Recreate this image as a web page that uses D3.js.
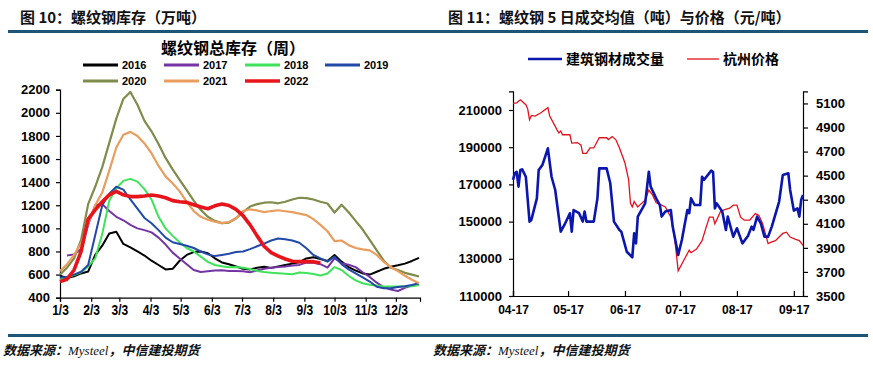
<!DOCTYPE html>
<html>
<head>
<meta charset="utf-8">
<script src="https://cdn.jsdelivr.net/npm/d3@7"></script>
<style>
  body { margin: 0; background: #fff; }
  svg { display: block; }
  .tick text { font-family: "Liberation Sans", Arial, sans-serif; font-weight: bold; fill: #000; }
</style>
</head>
<body>
<div id="chart"></div>
<script>
// ---- left chart: weekly rebar inventory, one array per year (week 0 = 1/3)
var years = ["2016", "2017", "2018", "2019", "2020", "2021", "2022"];
var monthTicks = ["1/3", "2/3", "3/3", "4/3", "5/3", "6/3", "7/3", "8/3", "9/3", "10/3", "11/3", "12/3"];

var inv2016 = [590, 570, 585, 610, 626, 770, 850, 955, 970, 865, 835, 800, 765, 720, 683, 645, 650, 720, 770, 795, 800, 785, 741, 705, 690, 670,
  650, 645, 660, 668, 658, 670, 683, 695, 707, 740, 750, 735, 718, 770, 712, 665, 635, 610, 600, 625, 650, 668, 680, 695, 718, 745];
var inv2017 = [null, 765, 775, 820, 1030, 1200, 1210, 1150, 1100, 1070, 1030, 1000, 985, 965, 920, 860, 790, 740, 690, 640, 622, 628, 635, 638, 632, 630,
  628, 620, 635, 650, 660, 665, 670, 678, 684, 705, 702, 690, 660, 741, 698, 685, 665, 620, 580, 530, 490, 470, 458, 485, 505, 520];
var inv2018 = [560, 575, 595, 620, 670, 740, 950, 1240, 1347, 1411, 1428, 1405, 1340, 1250, 1100, 1000, 935, 880, 830, 800, 755, 710, 683, 672, 663, 665,
  660, 648, 632, 622, 615, 611, 607, 603, 618, 613, 605, 592, 610, 665, 640, 590, 550, 525, 512, 505, 497, 496, 496, 496, 500, 510];
var inv2019 = [575, 580, 600, 625, 683, 940, 1200, 1300, 1360, 1335, 1250, 1170, 1090, 1044, 985, 920, 880, 865, 850, 830, 800, 775, 760, 770, 780, 795,
  800, 820, 845, 868, 895, 912, 905, 895, 875, 828, 770, 740, 712, 755, 690, 645, 610, 575, 540, 495, 482, 482, 492, 500, 510, 525];
var inv2020 = [600, 660, 740, 900, 1210, 1360, 1530, 1740, 1950, 2120, 2180, 2070, 1930, 1840, 1730, 1610, 1510, 1420, 1330, 1240, 1160, 1100, 1065, 1045, 1050, 1085,
  1140, 1189, 1210, 1222, 1226, 1217, 1230, 1250, 1265, 1262, 1250, 1230, 1215, 1137, 1205, 1140, 1065, 990, 900, 810, 720, 660, 640, 615, 600, 583];
var inv2021 = [630, 690, 770, 870, 1040, 1200, 1310, 1500, 1700, 1810, 1835, 1800, 1735, 1650, 1540, 1450, 1390, 1320, 1230, 1150, 1100, 1075, 1058, 1045, 1055, 1090,
  1150, 1165, 1155, 1140, 1150, 1157, 1148, 1140, 1128, 1115, 1080, 1030, 975, 890, 895, 855, 830, 818, 810, 770, 710, 665, 630, 590, 555, 525];
var inv2022 = [539, 560, 640, 800, 1080, 1160, 1230, 1290, 1320, 1290, 1275, 1275, 1280, 1288, 1280, 1265, 1240, 1230, 1225, 1205, 1185, 1170, 1195, 1210, 1198, 1165,
  1110, 1030, 935, 845, 790, 760, 735, 715, 712, 712, 712, 700];

var invSeries = [inv2016, inv2017, inv2018, inv2019, inv2020, inv2021, inv2022];
var invColors = ["#000000", "#7434a4", "#3fe35a", "#2249a8", "#7f8c4c", "#e99d5e", "#e8141b"];
var invWidths = [2, 2, 2, 2, 2.2, 2.2, 3.6];

// ---- right chart: 5-day traded volume (t) and Hangzhou price (yuan/t), 2022
var volume = [["04-17",172400],["04-18",176000],["04-19",176800],["04-20",168800],["04-21",177700],["04-22",178100],["04-24",174100],["04-26",150000],
  ["04-27",150900],["04-30",162500],["05-01",177700],["05-03",180400],["05-06",189400],["05-08",174100],["05-10",167000],["05-13",144600],["05-15",148200],
  ["05-18",154500],["05-19",144600],["05-20",156200],["05-23",154500],["05-25",150000],["05-26",155400],["05-27",150000],["05-31",150000],["06-02",162500],
  ["06-03",178600],["06-07",178600],["06-09",170600],["06-11",150000],["06-14",145500],["06-15",144600],["06-18",133800],["06-21",130800],["06-22",143700],
  ["06-23",138300],["06-24",152700],["06-28",159800],["06-30",176800],["07-01",168800],["07-04",162500],["07-06",158900],["07-07",152700],["07-09",155400],
  ["07-12",156200],["07-13",147300],["07-16",132100],["07-18",140100],["07-21",156200],["07-22",154500],["07-23",162500],["07-25",158900],["07-28",158900],
  ["07-29",174100],["07-30",172400],["08-03",177400],["08-04",176800],["08-05",157100],["08-06",159800],["08-09",155400],["08-11",145500],["08-12",152700],
  ["08-15",141900],["08-17",146400],["08-20",138300],["08-23",142300],["08-25",147300],["08-26",145500],["08-28",152700],["08-30",149100],["09-01",141900],
  ["09-03",141900],["09-05",147300],["09-09",160800],["09-11",175100],["09-14",176000],["09-15",167000],["09-17",155900],["09-19",157100],["09-20",152700],
  ["09-21",161600],["09-22",164300]];
var price = [["04-17",5100],["04-19",5105],["04-21",5130],["04-24",5090],["04-25",5055],["04-26",4965],["04-27",5000],["04-29",4995],["05-02",5020],
  ["05-06",5065],["05-07",4995],["05-11",4880],["05-12",4855],["05-13",4870],["05-14",4840],["05-18",4840],["05-19",4770],["05-22",4775],["05-24",4755],
  ["05-25",4685],["05-27",4685],["05-29",4730],["05-31",4730],["06-03",4815],["06-07",4815],["06-08",4800],["06-10",4825],["06-12",4800],["06-14",4730],
  ["06-17",4605],["06-19",4465],["06-20",4270],["06-21",4240],["06-22",4285],["06-24",4240],["06-25",4255],["06-28",4295],["06-30",4380],["07-02",4340],
  ["07-04",4275],["07-07",4255],["07-09",4240],["07-12",4155],["07-14",3990],["07-16",3710],["07-19",3795],["07-22",3880],["07-23",3860],["07-26",3890],
  ["07-29",3960],["07-31",4060],["08-02",4155],["08-04",4155],["08-05",4100],["08-08",4200],["08-10",4215],["08-13",4230],["08-15",4255],["08-17",4255],
  ["08-19",4155],["08-21",4130],["08-24",4130],["08-27",4185],["08-29",4170],["08-31",4100],["09-02",3990],["09-03",3935],["09-05",3950],["09-07",3960],
  ["09-09",3990],["09-11",4020],["09-13",4030],["09-15",3990],["09-18",3970],["09-20",3960],["09-22",3920]];
var dateTicks = ["04-17", "05-17", "06-17", "07-17", "08-17", "09-17"];
var volTicks = [110000, 130000, 150000, 170000, 190000, 210000];
var priceTicks = [3500, 3700, 3900, 4100, 4300, 4500, 4700, 4900, 5100];

var cnFont = '"Noto Sans CJK SC", sans-serif';
var ruleColor = "#1d5577";

var svg = d3.select("#chart").append("svg")
    .attr("width", 873)
    .attr("height", 366);

svg.append("rect").attr("width", 873).attr("height", 366).attr("fill", "#fff");

// header titles and rules
svg.append("text").attr("x", 20).attr("y", 23)
    .style("font-family", cnFont).style("font-weight", "bold").style("font-size", "15px").attr("fill", "#111")
    .text("图 10：螺纹钢库存（万吨）");
svg.append("text").attr("x", 448).attr("y", 23)
    .style("font-family", cnFont).style("font-weight", "bold").style("font-size", "15px").attr("fill", "#111")
    .text("图 11：螺纹钢 5 日成交均值（吨）与价格（元/吨）");
svg.append("rect").attr("x", 8).attr("y", 30).attr("width", 860).attr("height", 3).attr("fill", ruleColor);
svg.append("rect").attr("x", 8).attr("y", 334).attr("width", 860).attr("height", 3).attr("fill", ruleColor);

// source lines
[3, 433].forEach(function(x0) {
  var t = svg.append("text").attr("x", x0).attr("y", 355)
      .style("font-size", "13px").style("font-style", "italic").style("font-weight", "bold").attr("fill", "#111");
  t.append("tspan").style("font-family", cnFont).text("数据来源：");
  t.append("tspan").style("font-family", '"Liberation Serif", serif').style("font-weight", "normal").text("Mysteel");
  t.append("tspan").style("font-family", cnFont).text("，中信建投期货");
});

// ================= left chart =================
var parseDay = d3.timeParse("%Y-%m-%d");
var week0 = parseDay("2022-01-03");
var weekDate = function(i) { return d3.timeDay.offset(week0, 7 * i); };

var xL = d3.scaleTime().domain([week0, parseDay("2022-12-27")]).range([60, 420]);
var yL = d3.scaleLinear().domain([400, 2200]).range([297.7, 89.7]);

var gL = svg.append("g");

gL.append("g")
    .attr("transform", "translate(0,297.7)")
    .call(d3.axisBottom(xL)
      .tickValues(monthTicks.map(function(m) { return parseDay("2022-" + m.split("/")[0] + "-3"); }))
      .tickFormat(function(d, i) { return monthTicks[i]; })
      .tickSizeOuter(0).tickSize(4).tickPadding(3))
    .call(function(g) {
      // condensed look of the original labels
      g.selectAll("text").style("font-size", "15px").attr("transform", "scale(0.8,1)");
      g.selectAll("line, path").attr("stroke", "#000").attr("stroke-width", 1.2);
    });

gL.append("g")
    .attr("transform", "translate(60,0)")
    .call(d3.axisLeft(yL).tickValues(d3.range(400, 2201, 200)).tickFormat(d3.format("d"))
      .tickSizeOuter(0).tickSize(4).tickPadding(6))
    .call(function(g) {
      g.selectAll("text").style("font-size", "13px");
      g.selectAll("line, path").attr("stroke", "#000").attr("stroke-width", 1.2);
    });

var invLine = d3.line()
    .defined(function(d) { return d != null; })
    .x(function(d, i) { return xL(weekDate(i)); })
    .y(function(d) { return yL(d); });

invSeries.forEach(function(s, k) {
  gL.append("path")
      .datum(s)
      .attr("fill", "none")
      .attr("stroke", invColors[k])
      .attr("stroke-width", invWidths[k])
      .attr("stroke-linejoin", "round")
      .attr("d", invLine);
});

// chart title + legend
gL.append("text").attr("x", 233).attr("y", 54).attr("text-anchor", "middle")
    .style("font-family", cnFont).style("font-weight", "bold").style("font-size", "16px").attr("fill", "#000")
    .text("螺纹钢总库存（周）");

years.forEach(function(y, k) {
  var lx = [83, 164, 245, 325][k % 4];
  var ly = k < 4 ? 65 : 81;
  gL.append("line").attr("x1", lx).attr("x2", lx + 35).attr("y1", ly).attr("y2", ly)
      .attr("stroke", invColors[k]).attr("stroke-width", k == 6 ? 3.6 : 3);
  gL.append("text").attr("x", lx + 39).attr("y", ly + 4)
      .style("font-family", '"Liberation Sans", Arial, sans-serif').style("font-weight", "bold").style("font-size", "11px")
      .text(y);
});

// ================= right chart =================
var parseMD = function(s) { return parseDay("2022-" + s); };
var xR = d3.scaleTime().domain([parseMD("04-17"), parseMD("09-22")]).range([513, 803]);
var yVol = d3.scaleLinear().domain([110000, 220000]).range([296, 91.4]);
var yPrice = d3.scaleLinear().domain([3500, 5200]).range([296, 91.4]);

var gR = svg.append("g");

gR.append("g")
    .attr("transform", "translate(0,296)")
    .call(d3.axisBottom(xR).tickValues(dateTicks.map(parseMD)).tickFormat(d3.timeFormat("%m-%d"))
      .tickSizeOuter(0).tickSize(-5).tickPadding(9))
    .call(function(g) {
      g.selectAll("text").style("font-size", "12px");
      g.selectAll("line, path").attr("stroke", "#000").attr("stroke-width", 1.2);
    });

gR.append("g")
    .attr("transform", "translate(513,0)")
    .call(d3.axisLeft(yVol).tickValues(volTicks).tickFormat(d3.format("d"))
      .tickSizeOuter(0).tickSize(4).tickPadding(7))
    .call(function(g) {
      g.selectAll("text").style("font-size", "13px");
      g.selectAll("line, path").attr("stroke", "#000").attr("stroke-width", 1.2);
    });

gR.append("g")
    .attr("transform", "translate(803,0)")
    .call(d3.axisRight(yPrice).tickValues(priceTicks).tickFormat(d3.format("d"))
      .tickSizeOuter(0).tickSize(5).tickPadding(8))
    .call(function(g) {
      g.selectAll("text").style("font-size", "13px");
      g.selectAll("line, path").attr("stroke", "#000").attr("stroke-width", 1.2);
    });

gR.append("path")
    .datum(price)
    .attr("fill", "none")
    .attr("stroke", "#e2121c")
    .attr("stroke-width", 1.3)
    .attr("d", d3.line().x(function(d) { return xR(parseMD(d[0])); }).y(function(d) { return yPrice(d[1]); }));

gR.append("path")
    .datum(volume)
    .attr("fill", "none")
    .attr("stroke", "#0b16ad")
    .attr("stroke-width", 2.6)
    .attr("stroke-linejoin", "round")
    .attr("d", d3.line().x(function(d) { return xR(parseMD(d[0])); }).y(function(d) { return yVol(d[1]); }));

// legend
gR.append("line").attr("x1", 528).attr("x2", 562).attr("y1", 59).attr("y2", 59).attr("stroke", "#0b16ad").attr("stroke-width", 2.6);
gR.append("text").attr("x", 566).attr("y", 64)
    .style("font-family", cnFont).style("font-weight", "bold").style("font-size", "14px").text("建筑钢材成交量");
gR.append("line").attr("x1", 687).attr("x2", 719).attr("y1", 59).attr("y2", 59).attr("stroke", "#e2121c").attr("stroke-width", 1.3);
gR.append("text").attr("x", 723).attr("y", 64)
    .style("font-family", cnFont).style("font-weight", "bold").style("font-size", "14px").text("杭州价格");
</script>
</body>
</html>
